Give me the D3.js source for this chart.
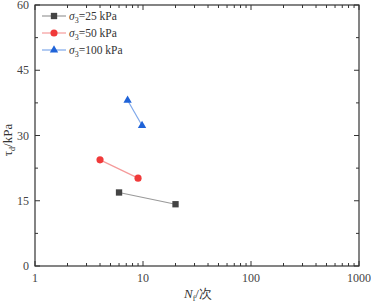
<!DOCTYPE html>
<html>
<head>
<meta charset="utf-8">
<script src="https://cdn.jsdelivr.net/npm/d3@7"></script>
<style>
  body { margin: 0; background: #fff; }
  text { font-family: "Liberation Serif", "Times New Roman", serif; }
</style>
</head>
<body>
<script>
// Constants
var w = 371,
    h = 304,
    margin = {left: 35, right: 12, top: 5, bottom: 38};

// Data
var nf25 = [6, 20],   tau25 = [16.9, 14.2];
var nf50 = [4, 9],    tau50 = [24.4, 20.2];
var nf100 = [7.2, 9.8], tau100 = [38.1, 32.3];
var seriesNames = ['25 kPa', '50 kPa', '100 kPa'];
var yTicks = [0, 15, 30, 45, 60];
var xTicks = [1, 10, 100, 1000];

var series = [
  {name: seriesNames[0], x: nf25, y: tau25, color: '#444444', line: '#9a9a9a', shape: d3.symbolSquare, size: 40},
  {name: seriesNames[1], x: nf50, y: tau50, color: '#f03a3a', line: '#f59a9a', shape: d3.symbolCircle, size: 40},
  {name: seriesNames[2], x: nf100, y: tau100, color: '#1f63d8', line: '#7fa8ea', shape: d3.symbolTriangle, size: 30}
];

var xScale = d3.scaleLog().domain([1, 1000]).range([margin.left, w - margin.right]);
var yScale = d3.scaleLinear().domain([0, 60]).range([h - margin.bottom, margin.top]);

var svg = d3.select('body').append('svg').attr('width', w).attr('height', h);

// minor ticks
var xMinor = [];
[1, 10, 100].forEach(function(d) { for (var k = 2; k <= 9; k++) xMinor.push(d * k); });
var yMinor = [7.5, 22.5, 37.5, 52.5];

function drawAxes(g) {
  var x0 = margin.left, x1 = w - margin.right, y0 = h - margin.bottom, y1 = margin.top;
  // bottom + top
  [y0, y1].forEach(function(yy, i) {
    var dir = i === 0 ? -1 : 1;
    g.selectAll(null).data(xTicks).enter().append('line')
      .attr('x1', function(d) { return xScale(d); }).attr('x2', function(d) { return xScale(d); })
      .attr('y1', yy).attr('y2', yy + dir * 5);
    g.selectAll(null).data(xMinor).enter().append('line')
      .attr('x1', function(d) { return xScale(d); }).attr('x2', function(d) { return xScale(d); })
      .attr('y1', yy).attr('y2', yy + dir * 3);
  });
  [x0, x1].forEach(function(xx, i) {
    var dir = i === 0 ? 1 : -1;
    g.selectAll(null).data(yTicks).enter().append('line')
      .attr('y1', function(d) { return yScale(d); }).attr('y2', function(d) { return yScale(d); })
      .attr('x1', xx).attr('x2', xx + dir * 5);
    g.selectAll(null).data(yMinor).enter().append('line')
      .attr('y1', function(d) { return yScale(d); }).attr('y2', function(d) { return yScale(d); })
      .attr('x1', xx).attr('x2', xx + dir * 3);
  });
  g.selectAll('line').attr('stroke', '#333').attr('stroke-width', 1);
  g.append('rect').attr('x', x0).attr('y', y1).attr('width', x1 - x0).attr('height', y0 - y1)
    .attr('fill', 'none').attr('stroke', '#333').attr('stroke-width', 1.2);
}
drawAxes(svg.append('g'));

// tick labels
svg.selectAll('.ylab').data(yTicks).enter().append('text')
   .attr('x', margin.left - 6).attr('y', function(d) { return yScale(d) + 4; })
   .attr('text-anchor', 'end').attr('font-size', 12).attr('fill', '#444')
   .text(function(d) { return d; });
svg.selectAll('.xlab').data(xTicks).enter().append('text')
   .attr('x', function(d) { return xScale(d); }).attr('y', h - margin.bottom + 16)
   .attr('text-anchor', 'middle').attr('font-size', 12).attr('fill', '#444')
   .text(function(d) { return d; });

// axis titles
var xt = svg.append('text').attr('x', 198).attr('y', h - 6)
   .attr('text-anchor', 'middle').attr('font-size', 13).attr('fill', '#333');
xt.append('tspan').attr('font-style', 'italic').text('N');
xt.append('tspan').attr('font-size', 8).attr('dy', 3).text('f');
xt.append('tspan').attr('dy', -3).text('/次');

var yt = svg.append('text').attr('transform', 'translate(12,140) rotate(-90)')
   .attr('text-anchor', 'middle').attr('font-size', 13).attr('fill', '#333');
yt.append('tspan').text('τ');
yt.append('tspan').attr('font-size', 8).attr('dy', 3).text('d');
yt.append('tspan').attr('dy', -3).text('/kPa');

// series
var line = d3.line().x(function(d) { return xScale(d[0]); }).y(function(d) { return yScale(d[1]); });
series.forEach(function(s) {
  var pts = s.x.map(function(v, i) { return [v, s.y[i]]; });
  svg.append('path').datum(pts).attr('d', line)
     .attr('fill', 'none').attr('stroke', s.line).attr('stroke-width', 1.2);
  svg.selectAll(null).data(pts).enter().append('path')
     .attr('d', d3.symbol().type(s.shape).size(s.size))
     .attr('transform', function(d) { return 'translate(' + xScale(d[0]) + ',' + yScale(d[1]) + ')'; })
     .attr('fill', s.color);
});

// legend
var leg = svg.append('g').attr('transform', 'translate(42,16)');
series.forEach(function(s, i) {
  var g = leg.append('g').attr('transform', 'translate(0,' + (i * 17) + ')');
  g.append('line').attr('x1', 0).attr('x2', 24).attr('y1', 0).attr('y2', 0)
   .attr('stroke', s.line).attr('stroke-width', 1.2);
  g.append('path').attr('d', d3.symbol().type(s.shape).size(s.size))
   .attr('transform', 'translate(12,0)').attr('fill', s.color);
  var t = g.append('text').attr('x', 27).attr('y', 4).attr('font-size', 11.5).attr('fill', '#333');
  t.append('tspan').attr('font-style', 'italic').text('σ');
  t.append('tspan').attr('font-size', 8).attr('dy', 3).text('3');
  t.append('tspan').attr('dy', -3).text('=' + s.name);
});
</script>
</body>
</html>
